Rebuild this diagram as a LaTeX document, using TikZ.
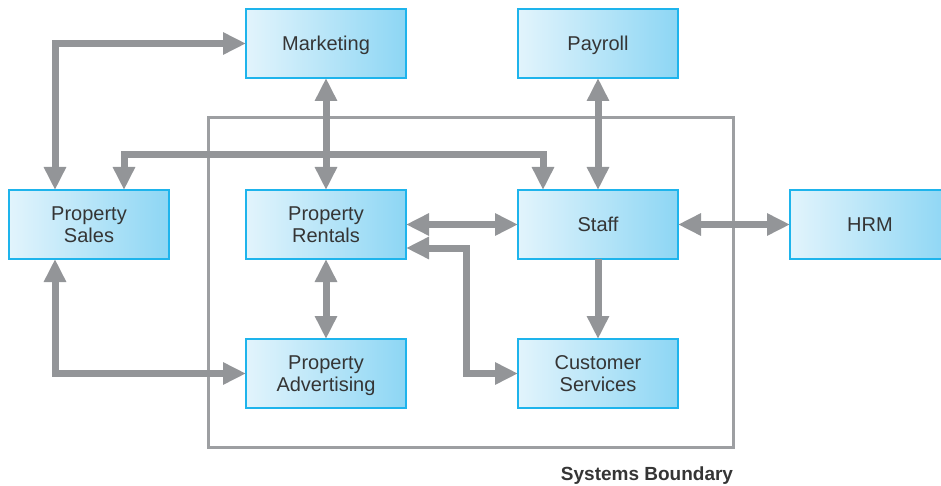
\documentclass[tikz,border=0pt]{standalone}
\usepackage{fontspec}
\setmainfont{Liberation Sans}
\usetikzlibrary{arrows.meta}
\definecolor{arr}{HTML}{939598}
\definecolor{bnd}{HTML}{9D9FA2}
\definecolor{boxline}{HTML}{1EB4EC}
\definecolor{boxL}{HTML}{E2F4FC}
\definecolor{boxR}{HTML}{8DD6F4}
\definecolor{txt}{HTML}{353535}
\newcommand{\nodp}[1]{\raisebox{0pt}[\height][0pt]{#1}}
\tikzset{
  box/.style={draw=boxline, line width=2pt, left color=boxL, right color=boxR,
    minimum width=160pt, minimum height=69pt, inner sep=0pt, outer sep=0pt,
    align=center, font=\fontsize{20}{21.7}\selectfont, text=txt},
  tipA/.tip={Triangle[length=23pt,width=21pt]},
  conn/.style={draw=arr, line width=7pt, tipA-tipA},
  oneway/.style={draw=arr, line width=7pt, -tipA},
  bound/.style={draw=bnd, line width=3pt, minimum width=525pt, minimum height=329pt, inner sep=0pt, outer sep=0pt}
}
\begin{document}
\begin{tikzpicture}[x=1pt,y=-1pt]
\useasboundingbox (0,0) rectangle (941,486);
\node[bound] (sb) at (470.5,282.5) {};
\node[font=\fontsize{19}{22}\selectfont\bfseries, text=txt, anchor=base] (sbl) at (647,480) {Systems Boundary};

\node[box] (MK) at (326,43.5) {\nodp{Marketing}};
\node[box] (PY) at (598,43.5) {\nodp{Payroll}};
\node[box] (PS) at (89,224.5) {Property\\\nodp{Sales}};
\node[box] (PR) at (326,224.5) {Property\\\nodp{Rentals}};
\node[box] (ST) at (598,224.5) {\nodp{Staff}};
\node[box] (HR) at (870,224.5) {\nodp{HRM}};
\node[box] (PA) at (326,373.5) {Property\\\nodp{Advertising}};
\node[box] (CS) at (598,373.5) {Customer\\\nodp{Services}};

\draw[conn] ([xshift=-34pt]PS.north) |- (MK.west);
\draw[conn] ([xshift=35pt]PS.north) -- ++(0,-35) -| ([xshift=-55pt]ST.north);
\draw[conn] (MK.south) -- (PR.north);
\draw[conn] (PY.south) -- (ST.north);
\draw[conn] (PR.east) -- (ST.west);
\draw[conn] ([yshift=-23.5pt]PR.east) -- ++(60,0) |- (CS.west);
\draw[oneway] (ST.south) -- (CS.north);
\draw[conn] (ST.east) -- (HR.west);
\draw[conn] (PR.south) -- (PA.north);
\draw[conn] ([xshift=-34pt]PS.south) |- (PA.west);
\end{tikzpicture}
\end{document}
